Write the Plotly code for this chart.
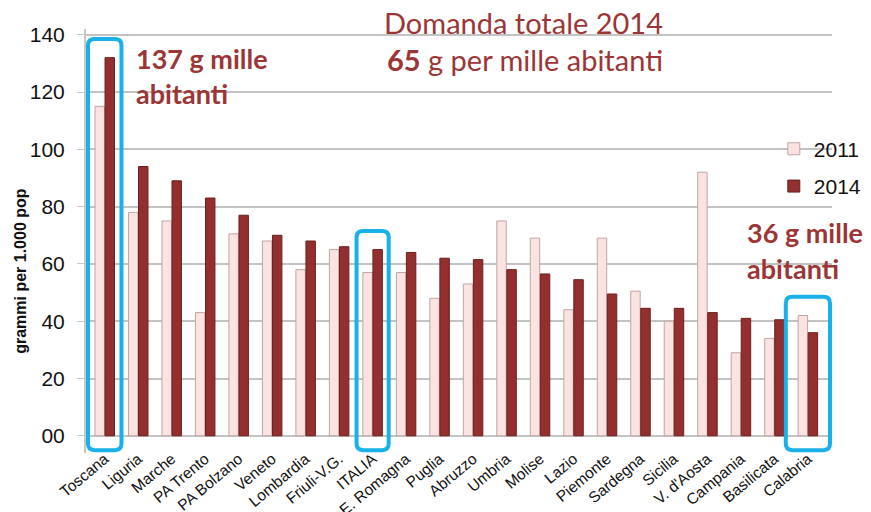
import plotly.graph_objects as go

regions = ["Toscana", "Liguria", "Marche", "PA Trento", "PA Bolzano", "Veneto",
           "Lombardia", "Friuli-V.G.", "ITALIA", "E. Romagna", "Puglia", "Abruzzo",
           "Umbria", "Molise", "Lazio", "Piemonte", "Sardegna", "Sicilia",
           "V. d'Aosta", "Campania", "Basilicata", "Calabria"]
v2011 = [115, 78, 75, 43, 70.5, 68, 58, 65, 57, 57, 48, 53,
         75, 69, 44, 69, 50.5, 40, 92, 29, 34, 42]
v2014 = [132, 94, 89, 83, 77, 70, 68, 66, 65, 64, 62, 61.5,
         58, 56.5, 54.5, 49.5, 44.5, 44.5, 43, 41, 40.5, 36]
ytick_vals = [0, 20, 40, 60, 80, 100, 120, 140]
ytick_text = ["00", "20", "40", "60", "80", "100", "120", "140"]

TEXT_RED = "#9C3636"
BLUE = "#1AB0E8"
SANS = "Liberation Sans"

fig = go.Figure()
fig.add_trace(go.Bar(name="2011", x=regions, y=v2011, legendgroup="a",
                     marker=dict(color="#FBE3E1", line=dict(color="#BFA5A5", width=1))))
fig.add_trace(go.Bar(name="2014", x=regions, y=v2014, legendgroup="b",
                     marker=dict(color="#93302F", line=dict(color="#6A1F1F", width=1))))

# highlight boxes (category, half width in category units)
highlights = [("Toscana", 0.5), ("ITALIA", 0.48), ("Calabria", 0.66)]
shapes = []
for name, hw in highlights:
    i = regions.index(name)
    top = max(v2011[i], v2014[i]) + 6.5
    bot = -5
    x0, x1 = i - hw, i + hw
    rx, ry = 0.2, 2.2
    path = (f"M {x0+rx},{bot} L {x1-rx},{bot} Q {x1},{bot} {x1},{bot+ry} "
            f"L {x1},{top-ry} Q {x1},{top} {x1-rx},{top} "
            f"L {x0+rx},{top} Q {x0},{top} {x0},{top-ry} "
            f"L {x0},{bot+ry} Q {x0},{bot} {x0+rx},{bot} Z")
    shapes.append(dict(type="path", path=path, xref="x", yref="y",
                       line=dict(color=BLUE, width=4), layer="above"))

annots = [
    dict(text="<b>137 g mille</b>", x=0.065, y=0.973, xanchor="left", yanchor="top", size=27),
    dict(text="<b>abitanti</b>", x=0.065, y=0.891, xanchor="left", yanchor="top", size=27),
    dict(text="<b>36 g mille</b>", x=0.883, y=0.564, xanchor="left", yanchor="top", size=27),
    dict(text="<b>abitanti</b>", x=0.883, y=0.479, xanchor="left", yanchor="top", size=27),
    dict(text="Domanda totale 2014", x=0.586, y=1.016, xanchor="center", yanchor="middle", size=29),
    dict(text="<b>65</b> g per mille abitanti", x=0.588, y=0.927, xanchor="center", yanchor="middle", size=29),
]
annotations = []
for a in annots:
    annotations.append(dict(text=a["text"], x=a["x"], y=a["y"], xref="paper", yref="paper",
                            xanchor=a["xanchor"], yanchor=a["yanchor"], showarrow=False,
                            font=dict(family="Lato", size=a["size"], color=TEXT_RED)))
annotations.append(dict(text="<b>grammi per 1.000 pop</b>", textangle=-90, x=-0.101, y=0.43,
                        xref="paper", yref="paper", showarrow=False,
                        font=dict(family=SANS, size=16, color="#111111")))

fig.update_layout(
    width=930, height=512,
    margin=dict(l=78, r=106, t=21, b=67),
    paper_bgcolor="white", plot_bgcolor="white",
    barmode="group", bargap=0.4, bargroupgap=0.06,
    shapes=shapes, annotations=annotations,
    legend=dict(x=0.922, y=0.765, xanchor="left", yanchor="top",
                font=dict(family=SANS, size=21, color="#111111"),
                bgcolor="rgba(0,0,0,0)", itemwidth=30,
                traceorder="grouped", tracegroupgap=7),
    xaxis=dict(tickangle=-40, tickfont=dict(family=SANS, size=15.5, color="#111111"),
               showgrid=False, showline=False, ticks="", automargin=False,
               ticklabelstandoff=-7),
    yaxis=dict(range=[-6, 142], tickvals=ytick_vals, ticktext=ytick_text,
               tickfont=dict(family=SANS, size=21, color="#111111"),
               showgrid=True, gridcolor="#C3C3C3", gridwidth=2, zeroline=False,
               showline=True, linecolor="#C8C8C8", linewidth=2, automargin=False,
               ticks="outside", ticklen=7, tickcolor="#C8C8C8", ticklabelstandoff=8),
)
fig.write_html("out.html")
